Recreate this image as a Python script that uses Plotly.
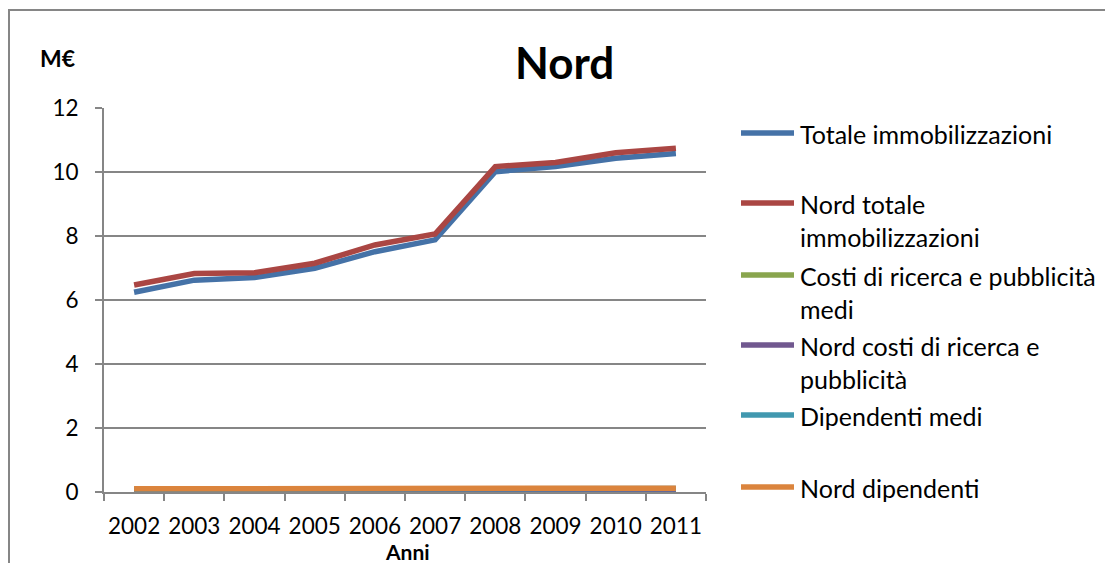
import plotly.graph_objects as go

years = ["2002", "2003", "2004", "2005", "2006", "2007", "2008", "2009", "2010", "2011"]
totale_immobilizzazioni = [6.24, 6.62, 6.70, 6.99, 7.51, 7.88, 10.01, 10.17, 10.43, 10.58]
nord_totale_immobilizzazioni = [6.47, 6.83, 6.85, 7.15, 7.72, 8.06, 10.17, 10.30, 10.60, 10.74]
costi_ricerca_pubblicita_medi = [0.03, 0.03, 0.03, 0.03, 0.03, 0.04, 0.04, 0.04, 0.04, 0.04]
nord_costi_ricerca_pubblicita = [0.01, 0.01, 0.02, 0.02, 0.02, 0.02, 0.03, 0.03, 0.03, 0.03]
dipendenti_medi = [0.09, 0.09, 0.09, 0.09, 0.09, 0.09, 0.10, 0.10, 0.11, 0.11]
nord_dipendenti = [0.10, 0.10, 0.09, 0.09, 0.09, 0.09, 0.10, 0.10, 0.11, 0.12]

series_names = ["Totale immobilizzazioni", "Nord totale<br>immobilizzazioni",
                "Costi di ricerca e pubblicità<br>medi", "Nord costi di ricerca e<br>pubblicità",
                "Dipendenti medi", "Nord dipendenti"]
series_values = [totale_immobilizzazioni, nord_totale_immobilizzazioni, costi_ricerca_pubblicita_medi,
                 nord_costi_ricerca_pubblicita, dipendenti_medi, nord_dipendenti]
colors = ["#4572A7", "#AA4643", "#89A54E", "#71588F", "#4198AF", "#DB843D"]

FONT = "Lato"
OFF = 8  # page body margin
fig = go.Figure()
for name, vals, col in zip(series_names, series_values, colors):
    fig.add_trace(go.Scatter(x=years, y=vals, mode="lines", name=name.replace("<br>", " "),
                             line=dict(color=col, width=5.5), showlegend=False))

W, H = 1113 - OFF, 563 - OFF
L, R, T, B = 104 - OFF, 706 - OFF, 108 - OFF, 492 - OFF


def px(x):
    return (x - OFF - L) / (R - L)


def py(y):
    return (B - (y - OFF)) / (B - T)


fig.update_layout(
    width=W, height=H,
    margin=dict(l=L, r=W - R, t=T, b=H - B, pad=0, autoexpand=False),
    paper_bgcolor="white", plot_bgcolor="white",
    font=dict(family=FONT, size=20, color="black"),
    xaxis=dict(type="category", tickson="boundaries", ticks="outside", ticklen=7,
               tickcolor="#868686", tickwidth=2, showline=True, linecolor="#868686",
               linewidth=2, showgrid=False, tickfont=dict(size=22.5), range=[-0.5, 9.5],
               ticklabelstandoff=13, tickangle=0, automargin=False),
    yaxis=dict(range=[0, 12], dtick=2, ticks="outside", ticklen=7, tickcolor="#868686",
               tickwidth=2, showline=True, linecolor="#868686", linewidth=2,
               gridcolor="#868686", gridwidth=2, zeroline=False, tickfont=dict(size=22.5),
               ticklabelstandoff=12, automargin=False),
)

# outer chart border
fig.add_shape(type="rect", xref="paper", yref="paper",
              x0=px(OFF + 1), x1=px(1125), y0=py(575), y1=py(10),
              line=dict(color="#868686", width=2), fillcolor="rgba(0,0,0,0)", layer="below")

fig.add_annotation(text="<b>Nord</b>", xref="paper", yref="paper",
                   x=px(564), y=py(62), showarrow=False,
                   font=dict(size=44, family=FONT), xanchor="center", yanchor="middle")
fig.add_annotation(text="<b>M€</b>", xref="paper", yref="paper",
                   x=px(57), y=py(58), showarrow=False,
                   font=dict(size=23, family=FONT), xanchor="center", yanchor="middle")
fig.add_annotation(text="<b>Anni</b>", xref="paper", yref="paper",
                   x=px(407), y=py(551), showarrow=False,
                   font=dict(size=21, family=FONT), xanchor="center", yanchor="middle")

# legend
legend_y = [133, 203, 275, 345, 415, 487]
for name, col, ly in zip(series_names, colors, legend_y):
    fig.add_shape(type="line", xref="paper", yref="paper",
                  x0=px(741), x1=px(794), y0=py(ly), y1=py(ly),
                  line=dict(color=col, width=5.5))
    fig.add_annotation(text=name, xref="paper", yref="paper", x=px(798),
                       y=py(ly - 16), showarrow=False, align="left",
                       xanchor="left", yanchor="top", font=dict(size=25, family=FONT))

fig.write_html("out.html")
